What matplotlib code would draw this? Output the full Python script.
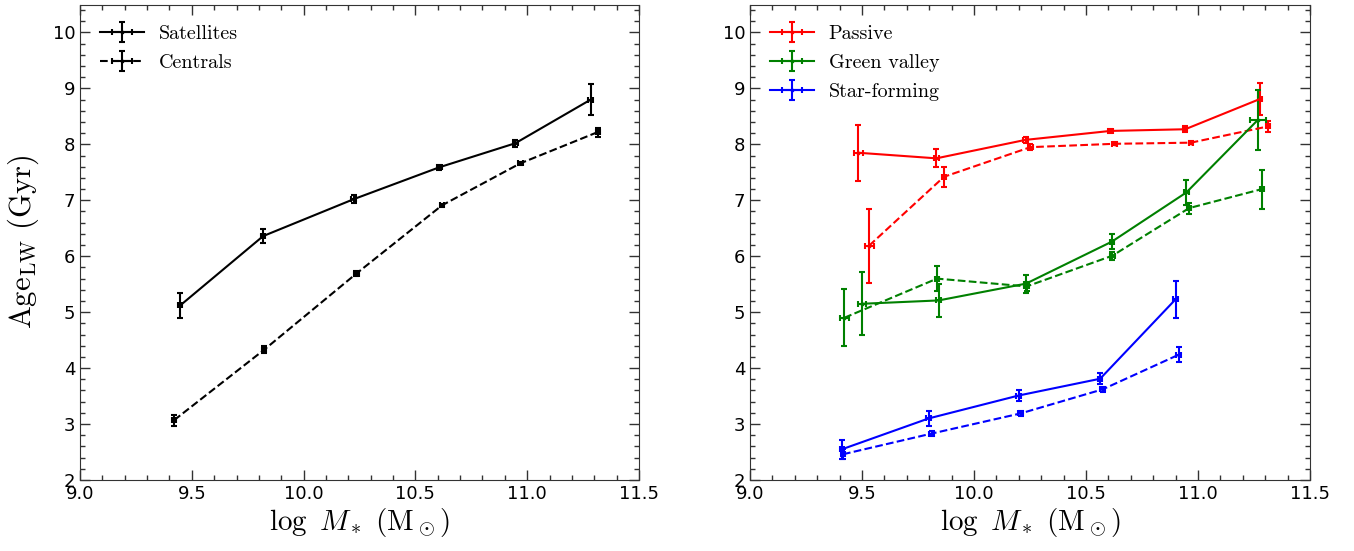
import numpy as np
import matplotlib
matplotlib.use('Agg')
import matplotlib.pyplot as plt
from matplotlib.ticker import MultipleLocator

plt.rcParams['mathtext.fontset'] = 'cm'

# left panel: satellites vs centrals
sat_x = [9.448, 9.819, 10.224, 10.607, 10.947, 11.284]
sat_y = [5.12, 6.36, 7.02, 7.59, 8.02, 8.80]
sat_yerr = [0.23, 0.125, 0.07, 0.04, 0.06, 0.27]
sat_xerr = [0.01, 0.01, 0.01, 0.01, 0.01, 0.01]

cen_x = [9.421, 9.824, 10.236, 10.619, 10.969, 11.316]
cen_y = [3.07, 4.33, 5.69, 6.91, 7.66, 8.22]
cen_yerr = [0.10, 0.06, 0.04, 0.03, 0.03, 0.08]
cen_xerr = [0.01, 0.01, 0.01, 0.01, 0.01, 0.01]

# right panel: solid = satellites, dashed = centrals
pas_sat_x = [9.483, 9.832, 10.23, 10.609, 10.943, 11.276]
pas_sat_y = [7.85, 7.75, 8.08, 8.24, 8.27, 8.81]
pas_sat_yerr = [0.50, 0.16, 0.06, 0.04, 0.05, 0.29]
pas_sat_xerr = [0.02, 0.01, 0.01, 0.01, 0.01, 0.01]

pas_cen_x = [9.532, 9.866, 10.252, 10.628, 10.968, 11.312]
pas_cen_y = [6.19, 7.42, 7.95, 8.01, 8.03, 8.32]
pas_cen_yerr = [0.66, 0.18, 0.05, 0.03, 0.03, 0.10]
pas_cen_xerr = [0.02, 0.01, 0.01, 0.01, 0.01, 0.01]

gv_sat_x = [9.50, 9.842, 10.232, 10.615, 10.948, 11.268]
gv_sat_y = [5.15, 5.21, 5.51, 6.26, 7.14, 8.44]
gv_sat_yerr = [0.56, 0.29, 0.16, 0.13, 0.22, 0.54]
gv_sat_xerr = [0.02, 0.01, 0.01, 0.01, 0.01, 0.035]

gv_cen_x = [9.421, 9.835, 10.235, 10.618, 10.96, 11.285]
gv_cen_y = [4.90, 5.60, 5.46, 6.01, 6.86, 7.20]
gv_cen_yerr = [0.51, 0.23, 0.08, 0.07, 0.10, 0.35]
gv_cen_xerr = [0.02, 0.01, 0.01, 0.01, 0.01, 0.01]

sf_sat_x = [9.411, 9.797, 10.199, 10.563, 10.90]
sf_sat_y = [2.55, 3.10, 3.51, 3.81, 5.23]
sf_sat_yerr = [0.17, 0.13, 0.10, 0.10, 0.33]
sf_sat_xerr = [0.01, 0.01, 0.01, 0.01, 0.01]

sf_cen_x = [9.415, 9.811, 10.208, 10.574, 10.914]
sf_cen_y = [2.46, 2.83, 3.19, 3.62, 4.24]
sf_cen_yerr = [0.09, 0.05, 0.04, 0.04, 0.13]
sf_cen_xerr = [0.01, 0.01, 0.01, 0.01, 0.01]

fig = plt.figure(figsize=(13.54, 5.51), dpi=100)
ax1 = fig.add_axes([80/1354, 1-480/551, 559/1354, 475.5/551])
ax2 = fig.add_axes([750/1354, 1-480/551, 560/1354, 475.5/551])

ekw = dict(marker='.', markersize=3.5, capsize=2.5, elinewidth=1.5, capthick=1.5, lw=1.5)
lkw = dict(loc='upper left', frameon=False, prop={'family': 'cmr10', 'size': 14.5},
           handlelength=2.2, handletextpad=0.7, numpoints=1, borderaxespad=0.6,
           labelspacing=0.55)

h1 = ax1.errorbar(sat_x, sat_y, yerr=sat_yerr, xerr=sat_xerr, color='k', ls='-', **ekw)
h2 = ax1.errorbar(cen_x, cen_y, yerr=cen_yerr, xerr=cen_xerr, color='k', ls='--', **ekw)
ax1.legend([h1, h2], ['Satellites', 'Centrals'], **lkw)

r1 = ax2.errorbar(pas_sat_x, pas_sat_y, yerr=pas_sat_yerr, xerr=pas_sat_xerr, color='r', ls='-', **ekw)
ax2.errorbar(pas_cen_x, pas_cen_y, yerr=pas_cen_yerr, xerr=pas_cen_xerr, color='r', ls='--', **ekw)
g1 = ax2.errorbar(gv_sat_x, gv_sat_y, yerr=gv_sat_yerr, xerr=gv_sat_xerr, color='g', ls='-', **ekw)
ax2.errorbar(gv_cen_x, gv_cen_y, yerr=gv_cen_yerr, xerr=gv_cen_xerr, color='g', ls='--', **ekw)
b1 = ax2.errorbar(sf_sat_x, sf_sat_y, yerr=sf_sat_yerr, xerr=sf_sat_xerr, color='b', ls='-', **ekw)
ax2.errorbar(sf_cen_x, sf_cen_y, yerr=sf_cen_yerr, xerr=sf_cen_xerr, color='b', ls='--', **ekw)
ax2.legend([r1, g1, b1], ['Passive', 'Green valley', 'Star-forming'], **lkw)

for ax in (ax1, ax2):
    ax.set_xlim(9.0, 11.5)
    ax.set_ylim(2, 10.5)
    ax.xaxis.set_major_locator(MultipleLocator(0.5))
    ax.xaxis.set_minor_locator(MultipleLocator(0.1))
    ax.yaxis.set_major_locator(MultipleLocator(1))
    ax.yaxis.set_minor_locator(MultipleLocator(0.2))
    ax.tick_params(which='both', direction='in', top=True, right=True, labelsize=13, color='#333333')
    ax.tick_params(which='major', length=7, width=1)
    ax.tick_params(which='minor', length=3.5, width=1)
    for s in ax.spines.values():
        s.set_color('#333333')
    ax.set_xlabel(r'$\log\ M_*\ (\mathrm{M}_\odot)$', fontsize=21, labelpad=2)

ax1.set_ylabel(r'$\mathrm{Age}_\mathrm{LW}\ (\mathrm{Gyr})$', fontsize=22, labelpad=8)

plt.savefig('out.png', dpi=100)
